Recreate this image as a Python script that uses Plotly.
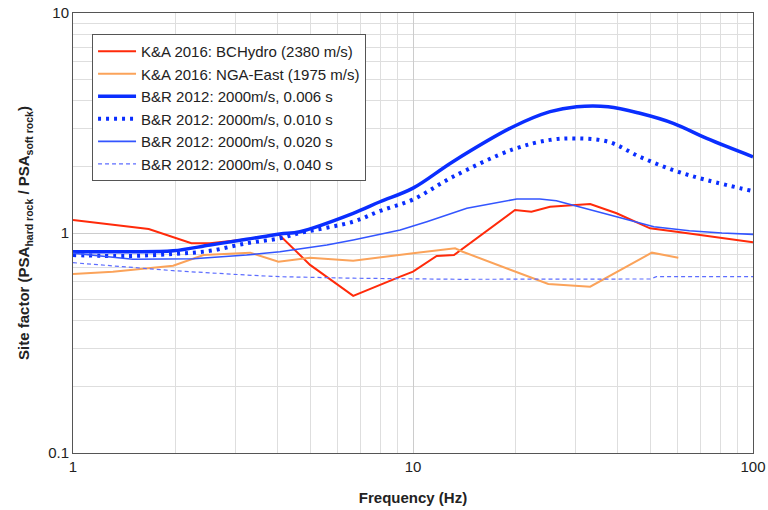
import plotly.graph_objects as go

# K&A 2016: BCHydro (2380 m/s)
bc_f = [1.0, 1.67, 2.23, 2.53, 3.24, 4.02, 4.98, 6.67, 9.17, 10.0, 11.74, 13.2, 19.95, 22.3, 25.3, 33.2, 39.7, 49.8, 59.6, 100.0]
bc_v = [1.146, 1.043, 0.898, 0.898, 0.936, 0.99, 0.716, 0.518, 0.633, 0.667, 0.786, 0.794, 1.272, 1.25, 1.317, 1.355, 1.229, 1.05, 1.014, 0.907]

# K&A 2016: NGA-East (1975 m/s)
nga_f = [1.0, 1.31, 1.97, 2.42, 3.32, 4.02, 4.98, 6.67, 10.0, 13.3, 14.0, 25.0, 33.2, 50.4, 60.3]
nga_v = [0.651, 0.667, 0.71, 0.794, 0.814, 0.74, 0.772, 0.748, 0.809, 0.852, 0.822, 0.586, 0.57, 0.814, 0.772]

# B&R 2012 curves
br_f = [1.0, 1.44, 1.97, 2.53, 3.24, 4.06, 4.65, 6.67, 8.0, 10.0, 13.1, 19.7, 25.3, 30.3, 37.5, 46.5, 58.3, 73.1, 100.0]
br006_v = [0.822, 0.822, 0.83, 0.882, 0.936, 0.99, 1.014, 1.229, 1.387, 1.60, 2.11, 3.04, 3.56, 3.75, 3.75, 3.5, 3.15, 2.69, 2.22]
br010_v = [0.794, 0.786, 0.803, 0.83, 0.898, 0.946, 1.0, 1.126, 1.26, 1.42, 1.8, 2.40, 2.65, 2.69, 2.6, 2.22, 1.93, 1.74, 1.55]

br020_f = [1.0, 1.5, 2.26, 3.24, 4.06, 5.58, 6.67, 9.17, 10.98, 14.4, 20.2, 23.6, 26.4, 32.3, 39.7, 51.1, 65.0, 81.0, 100.0]
br020_v = [0.809, 0.76, 0.764, 0.794, 0.822, 0.882, 0.93, 1.032, 1.126, 1.295, 1.427, 1.427, 1.402, 1.295, 1.186, 1.068, 1.024, 1.0, 0.986]

br040_f = [1.0, 1.31, 1.97, 3.24, 4.06, 6.67, 9.17, 13.7, 49.8, 52.0, 100.0]
br040_v = [0.733, 0.708, 0.674, 0.644, 0.633, 0.623, 0.618, 0.616, 0.618, 0.633, 0.633]

x_ticks = [1, 10, 100]
y_ticks = [0.1, 1, 10]
y_tick_text = ["0.1", "1", "10"]
x_minor = [a * b for b in (1, 10) for a in range(2, 10)]
y_minor = [a * b for b in (0.1, 1) for a in range(2, 10)]

FONT = "Liberation Sans, Arial"

fig = go.Figure()
fig.add_trace(go.Scatter(x=bc_f, y=bc_v, mode="lines", name="K&A 2016: BCHydro (2380 m/s)",
                         line=dict(color="#ff2a0a", width=2), legendgroup="a"))
fig.add_trace(go.Scatter(x=nga_f, y=nga_v, mode="lines", name="K&A 2016: NGA-East (1975 m/s)",
                         line=dict(color="#fba35a", width=2), legendgroup="b"))
fig.add_trace(go.Scatter(x=br_f, y=br006_v, mode="lines", name="B&R 2012: 2000m/s, 0.006 s",
                         line=dict(color="#0a2eff", width=3.5, shape="spline"), legendgroup="c"))
fig.add_trace(go.Scatter(x=br_f, y=br010_v, mode="lines", name="B&R 2012: 2000m/s, 0.010 s",
                         line=dict(color="#0a2eff", width=4, dash="3px,5px", shape="spline"), legendgroup="d"))
fig.add_trace(go.Scatter(x=br020_f, y=br020_v, mode="lines", name="B&R 2012: 2000m/s, 0.020 s",
                         line=dict(color="#3355ff", width=1.6), legendgroup="e"))
fig.add_trace(go.Scatter(x=br040_f, y=br040_v, mode="lines", name="B&R 2012: 2000m/s, 0.040 s",
                         line=dict(color="#5d6dff", width=1.2, dash="4px,3px"), legendgroup="f"))

axis_common = dict(
    type="log", showline=True, linecolor="#555555", linewidth=1, mirror=True,
    gridcolor="#cccccc", gridwidth=1.2, ticks="", zeroline=False, automargin=False,
    tickfont=dict(family=FONT, size=15, color="#222222"),
)
fig.update_xaxes(**axis_common, range=[0, 2], tickvals=x_ticks, ticktext=[str(v) for v in x_ticks],
                 minor=dict(tickvals=x_minor, showgrid=True, gridcolor="#dedede", gridwidth=1, ticks=""),
                 title=dict(text="<b>Frequency (Hz)</b>", font=dict(family=FONT, size=15, color="#222222"), standoff=18))
fig.update_yaxes(**axis_common, range=[-1, 1], tickvals=y_ticks, ticktext=y_tick_text,
                 minor=dict(tickvals=y_minor, showgrid=True, gridcolor="#dedede", gridwidth=1, ticks=""),
                 title=dict(text="<b>Site factor (PSA<sub>hard rock</sub> / PSA<sub>soft rock</sub>)</b>",
                            font=dict(family=FONT, size=15, color="#222222"), standoff=14))

fig.update_layout(
    width=768, height=510,
    margin=dict(l=73, r=15, t=13, b=57),
    paper_bgcolor="white", plot_bgcolor="white",
    legend=dict(x=0.028, y=0.952, xanchor="left", yanchor="top",
                bgcolor="white", bordercolor="#555555", borderwidth=1,
                font=dict(family=FONT, size=15, color="#222222"),
                itemwidth=38, tracegroupgap=0),
    showlegend=True,
)

fig.write_html(
    "out.html",
    config={"displayModeBar": False},
    post_script="document.body.style.margin='0';document.body.style.overflow='hidden';",
)
